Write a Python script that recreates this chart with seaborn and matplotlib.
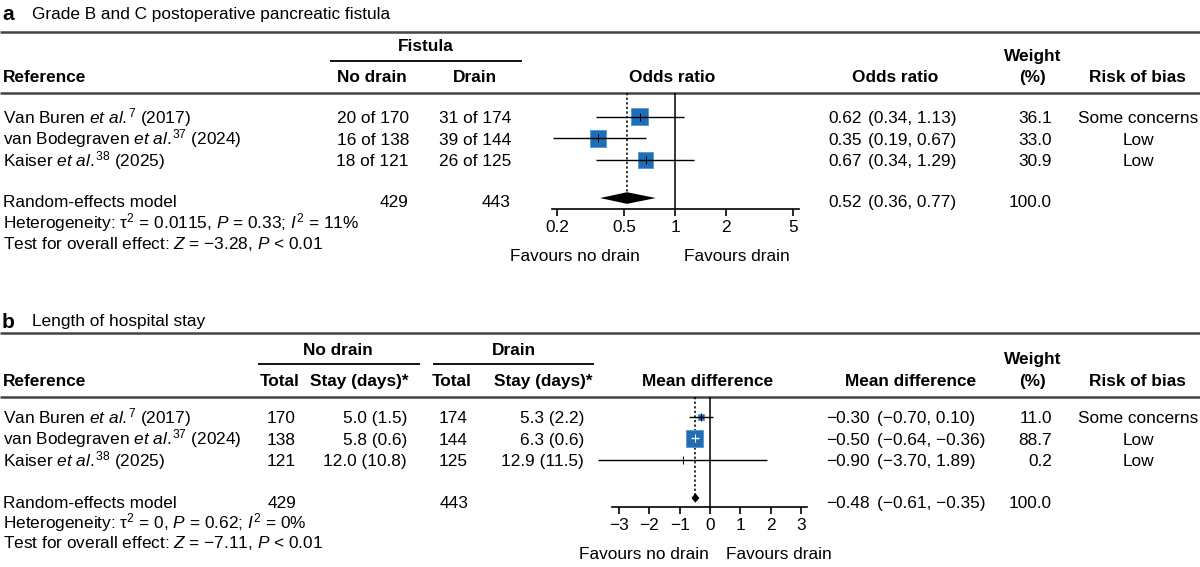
import numpy as np
import pandas as pd
import matplotlib
matplotlib.use('Agg')
import matplotlib.pyplot as plt
from matplotlib.ticker import NullLocator
import seaborn as sns

# ---- panel a: grade B/C pancreatic fistula ----
studiesA = [r'Van Buren $\mathit{et\ al}.^{\!7}$ (2017)',
            r'van Bodegraven $\mathit{et\ al}.^{\!37}$ (2024)',
            r'Kaiser $\mathit{et\ al}.^{\!38}$ (2025)']
noDrainA = ['20 of 170', '16 of 138', '18 of 121']
drainA = ['31 of 174', '39 of 144', '26 of 125']
orA = [0.62, 0.35, 0.67]
loA = [0.34, 0.19, 0.34]
hiA = [1.13, 0.67, 1.29]
weightA = [36.1, 33.0, 30.9]
robA = ['Some concerns', 'Low', 'Low']
pooledA = (0.52, 0.36, 0.77)
totalsA = ('429', '443')
hetA = r'Heterogeneity: τ$^{2}$ = 0.0115, $P$ = 0.33; $I^{2}$ = 11%'
testA = r'Test for overall effect: $Z$ = −3.28, $P$ < 0.01'
ticksA = [0.2, 0.5, 1, 2, 5]

# ---- panel b: length of hospital stay ----
studiesB = studiesA
totNoB = ['170', '138', '121']
stayNoB = ['5.0 (1.5)', '5.8 (0.6)', '12.0 (10.8)']
totDrB = ['174', '144', '125']
stayDrB = ['5.3 (2.2)', '6.3 (0.6)', '12.9 (11.5)']
mdB = [-0.30, -0.50, -0.90]
loB = [-0.70, -0.64, -3.70]
hiB = [0.10, -0.36, 1.89]
weightB = [11.0, 88.7, 0.2]
robB = ['Some concerns', 'Low', 'Low']
pooledB = (-0.48, -0.61, -0.35)
totalsB = ('429', '443')
hetB = r'Heterogeneity: τ$^{2}$ = 0, $P$ = 0.62; $I^{2}$ = 0%'
testB = r'Test for overall effect: $Z$ = −7.11, $P$ < 0.01'
ticksB = [-3, -2, -1, 0, 1, 2, 3]

sns.set_theme(style='white')
plt.rcParams['font.family'] = ['Liberation Sans', 'DejaVu Sans']
plt.rcParams['mathtext.fontset'] = 'custom'
plt.rcParams['mathtext.rm'] = 'Liberation Sans'
plt.rcParams['mathtext.it'] = 'Liberation Sans:italic'
plt.rcParams['mathtext.bf'] = 'Liberation Sans:bold'

FS = 12.4
BLUE, EDGE = '#1f6db5', '#5d9ad6'
W, H = 1200, 567

fig = plt.figure(figsize=(12, 5.67), dpi=100)
bg = fig.add_axes([0, 0, 1, 1])
bg.set_xlim(0, W)
bg.set_ylim(H, 0)
bg.axis('off')


def fmt(v, nd=2):
    return f'{v:.{nd}f}'.replace('-', '−')


def txt(x, y, s, ha='left', bold=False, size=FS):
    bg.text(x, y + 0.36 * size * 100 / 72, s, ha=ha, va='baseline', fontsize=size,
            fontweight='bold' if bold else 'normal', color='black')


def rule(y, x0=0, x1=W, lw=1.8, color='#444444'):
    bg.plot([x0, x1], [y, y], color=color, lw=lw, solid_capstyle='butt')


def px_axes(x0, y0, x1, y1):
    ax = fig.add_axes([x0 / W, 1 - y1 / H, (x1 - x0) / W, (y1 - y0) / H])
    ax.set_facecolor('none')
    return ax


def forest(ax, est, lo, hi, wt, pooled, xlim, ylim, ticks, ref, log=False, ppu=1.0):
    df = pd.DataFrame({'est': est, 'lo': lo, 'hi': hi, 'w': wt, 'y': [1, 2, 3]})
    if log:
        ax.set_xscale('log')
    ax.axvline(ref, color='black', lw=1.1, zorder=1)
    wmax = max(wt)
    side = {w: 17 * np.sqrt(w / wmax) for w in wt}          # box side in px
    sns.scatterplot(data=df, x='est', y='y', marker='s', size='w',
                    sizes={w: (s * 0.72) ** 2 for w, s in side.items()},
                    color=BLUE, edgecolor=EDGE, linewidth=0.7, legend=False,
                    ax=ax, zorder=3, clip_on=False)
    for _, r in df.iterrows():
        span = (np.log10(r['hi'] / r['lo']) if log else r['hi'] - r['lo']) * ppu
        inner = 'white' if span < side[r['w']] else 'black'
        ax.hlines(r['y'], r['lo'], r['hi'], color=inner, lw=1.0, zorder=4, clip_on=False)
        ax.scatter([r['est']], [r['y']], marker='|', s=28, color=inner, lw=0.7, zorder=5)
    p, plo, phi = pooled
    yp = 4.77
    ax.plot([p, p], [ylim[1], yp], color='black', ls=(0, (1.5, 1.5)), lw=1.1, zorder=2)
    hh = 0.27 if log else 0.22
    ax.fill([plo, p, phi, p], [yp, yp - hh, yp, yp + hh], color='black', zorder=4, lw=0)
    ax.set_xlim(*xlim)
    ax.set_ylim(*ylim)
    ax.set_xticks(ticks)
    ax.set_xticklabels([fmt(t, 0) if not log else str(t) for t in ticks], fontsize=FS)
    ax.xaxis.set_minor_locator(NullLocator())
    ax.set_yticks([])
    for s in ['left', 'right', 'top']:
        ax.spines[s].set_visible(False)
    ax.spines['bottom'].set_color('black')
    ax.spines['bottom'].set_linewidth(1.2)
    ax.tick_params(axis='x', direction='out', length=5, width=1.2, pad=3,
                   bottom=True, colors='black')
    ax.set_xlabel('')
    ax.set_ylabel('')


# ================= panel a =================
txt(2, 13, 'a', bold=True, size=15)
txt(32, 13, 'Grade B and C postoperative pancreatic fistula')
rule(32)
txt(426, 45, 'Fistula', ha='center', bold=True)
rule(61, 330, 522, lw=1.3, color='black')
txt(3, 76, 'Reference', bold=True)
txt(372, 76, 'No drain', ha='center', bold=True)
txt(475, 76, 'Drain', ha='center', bold=True)
txt(672, 76, 'Odds ratio', ha='center', bold=True)
txt(895, 76, 'Odds ratio', ha='center', bold=True)
txt(1033, 55, 'Weight', ha='center', bold=True)
txt(1033, 76, '(%)', ha='center', bold=True)
txt(1137, 76, 'Risk of bias', ha='center', bold=True)
rule(93)

rowsA = [117, 138.5, 160]
for i, y in enumerate(rowsA):
    txt(3, y, studiesA[i])
    txt(409, y, noDrainA[i], ha='right')
    txt(511, y, drainA[i], ha='right')
    txt(862, y, fmt(orA[i]), ha='right')
    txt(868, y, f'({fmt(loA[i])}, {fmt(hiA[i])})')
    txt(1052, y, fmt(weightA[i], 1), ha='right')
    txt(1138, y, robA[i], ha='center')
txt(3, 201, 'Random-effects model')
txt(409, 201, totalsA[0], ha='right')
txt(511, 201, totalsA[1], ha='right')
txt(862, 201, fmt(pooledA[0]), ha='right')
txt(868, 201, f'({fmt(pooledA[1])}, {fmt(pooledA[2])})')
txt(1052, 201, '100.0', ha='right')
txt(3, 222, hetA)
txt(3, 243, testA)
txt(640, 255, 'Favours no drain', ha='right')
txt(684, 255, 'Favours drain')

axA = px_axes(552, 93, 799, 209)
forest(axA, orA, loA, hiA, weightA, pooledA, (0.187, 5.42), (5.28, -0.116),
       ticksA, 1, log=True, ppu=169.2)

# ================= panel b =================
txt(2, 320, 'b', bold=True, size=15)
txt(32, 320, 'Length of hospital stay')
rule(333)
txt(338, 349, 'No drain', ha='center', bold=True)
rule(364, 258, 420, lw=1.3, color='black')
txt(514, 349, 'Drain', ha='center', bold=True)
rule(364, 433, 594, lw=1.3, color='black')
txt(3, 380, 'Reference', bold=True)
txt(300, 380, 'Total', ha='right', bold=True)
txt(408, 380, 'Stay (days)*', ha='right', bold=True)
txt(472, 380, 'Total', ha='right', bold=True)
txt(592, 380, 'Stay (days)*', ha='right', bold=True)
txt(708, 380, 'Mean difference', ha='center', bold=True)
txt(911, 380, 'Mean difference', ha='center', bold=True)
txt(1033, 358, 'Weight', ha='center', bold=True)
txt(1033, 380, '(%)', ha='center', bold=True)
txt(1137, 380, 'Risk of bias', ha='center', bold=True)
rule(397)

rowsB = [417, 438.5, 460]
for i, y in enumerate(rowsB):
    txt(3, y, studiesB[i])
    txt(296, y, totNoB[i], ha='right')
    txt(407, y, stayNoB[i], ha='right')
    txt(468, y, totDrB[i], ha='right')
    txt(584, y, stayDrB[i], ha='right')
    txt(870, y, fmt(mdB[i]), ha='right')
    txt(877, y, f'({fmt(loB[i])}, {fmt(hiB[i])})')
    txt(1052, y, fmt(weightB[i], 1), ha='right')
    txt(1138, y, robB[i], ha='center')
txt(3, 502, 'Random-effects model')
txt(296, 502, totalsB[0], ha='right')
txt(468, 502, totalsB[1], ha='right')
txt(870, 502, fmt(pooledB[0]), ha='right')
txt(877, 502, f'({fmt(pooledB[1])}, {fmt(pooledB[2])})')
txt(1052, 502, '100.0', ha='right')
txt(3, 522, hetB)
txt(3, 542, testB)
txt(709, 553, 'Favours no drain', ha='right')
txt(726, 553, 'Favours drain')

axB = px_axes(612, 397, 807, 507)
forest(axB, mdB, loB, hiB, weightB, pooledB, (-3.23, 3.20), (5.19, 0.07),
       ticksB, 0, log=False, ppu=30.33)

fig.savefig('out.png', dpi=100)
